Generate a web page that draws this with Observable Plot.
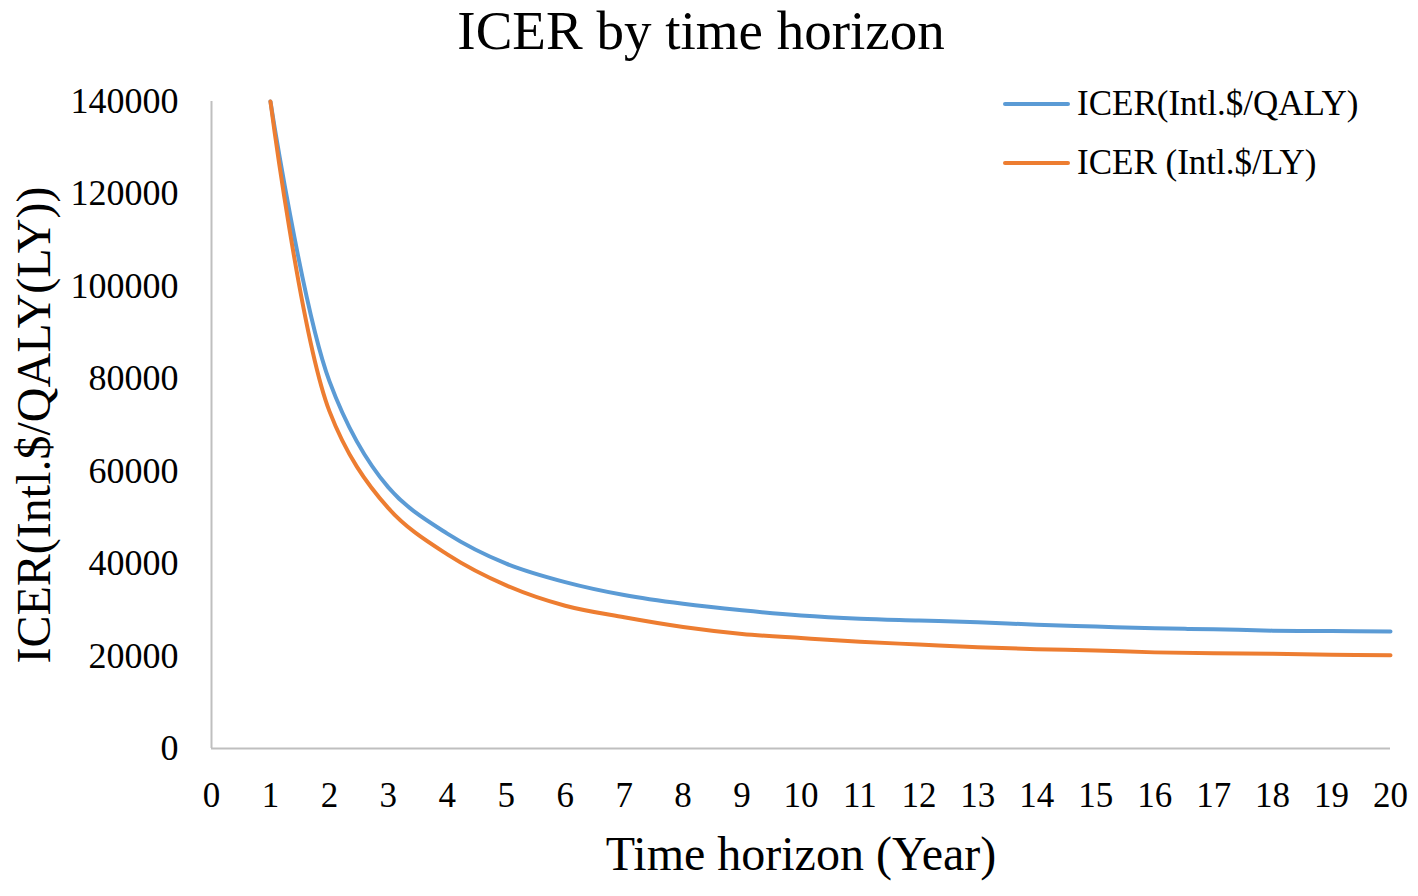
<!DOCTYPE html>
<html>
<head>
<meta charset="utf-8">
<script src="https://cdn.jsdelivr.net/npm/d3@7"></script>
<script src="https://cdn.jsdelivr.net/npm/@observablehq/plot@0.6"></script>
<style>
  html, body { margin: 0; padding: 0; background: #fff; }
  #wrap { position: relative; width: 1418px; height: 896px; font-family: "Liberation Serif", "Times New Roman", serif; }
  .leg { position: absolute; left: 1003px; display: flex; align-items: center; font-size: 35px; color: #000; white-space: nowrap; }
  .leg .sw { width: 67px; height: 4px; margin-right: 7px; border-radius: 2px; }
</style>
</head>
<body>
<div id="wrap"></div>
<script>
const title = "ICER by time horizon";
const xLabel = "Time horizon (Year)";
const yLabel = "ICER(Intl.$/QALY(LY))";
const seriesNames = ["ICER(Intl.$/QALY)", "ICER (Intl.$/LY)"];
const seriesColors = ["#5B9BD5", "#ED7D31"];
const years = [1, 2, 3, 4, 5, 6, 7, 8, 9, 10, 11, 12, 13, 14, 15, 16, 17, 18, 19, 20];
const icerQALY = [140000, 79500, 56500, 46500, 40000, 36000, 33200, 31300, 29900, 28800, 28100, 27700, 27300, 26800, 26400, 26000, 25800, 25500, 25400, 25300];
const icerLY   = [140000, 73000, 52000, 42000, 35300, 30900, 28400, 26300, 24800, 23900, 23100, 22500, 21900, 21500, 21200, 20800, 20600, 20500, 20300, 20200];
const xTicks = d3.range(0, 21);
const yTicks = [0, 20000, 40000, 60000, 80000, 100000, 120000, 140000];

const rows = [];
years.forEach((yr, i) => rows.push({year: yr, value: icerQALY[i], series: seriesNames[0]}));
years.forEach((yr, i) => rows.push({year: yr, value: icerLY[i], series: seriesNames[1]}));

const axisGray = "#BFBFBF";

const chart = Plot.plot({
  width: 1418,
  height: 896,
  marginTop: 101,
  marginBottom: 148,
  marginLeft: 211,
  marginRight: 28,
  style: {fontFamily: "'Liberation Serif', 'Times New Roman', serif", color: "#000", background: "#fff"},
  x: {domain: [0, 20]},
  y: {domain: [0, 140000]},
  color: {domain: seriesNames, range: seriesColors},
  marks: [
    Plot.ruleX([0], {stroke: axisGray, strokeWidth: 2}),
    Plot.ruleY([0], {stroke: axisGray, strokeWidth: 2}),
    Plot.axisX({ticks: xTicks, tickSize: 0, tickPadding: 34, fontSize: 35, tickFormat: d => String(d), label: null}),
    Plot.axisY({ticks: yTicks, tickSize: 0, tickPadding: 33, fontSize: 36, tickFormat: d => String(d), label: null}),
    Plot.line(rows, {x: "year", y: "value", stroke: "series", z: "series", curve: "catmull-rom", strokeWidth: 4, strokeLinecap: "round"}),
    Plot.text([title], {text: d => d, frameAnchor: "top", lineAnchor: "top", textAnchor: "middle", dx: -100, dy: -92, fontSize: 55}),
    Plot.text([yLabel], {text: d => d, frameAnchor: "left", textAnchor: "middle", lineAnchor: "middle", dx: -177, rotate: -90, fontSize: 48}),
    Plot.text([xLabel], {text: d => d, frameAnchor: "bottom", textAnchor: "middle", lineAnchor: "bottom", dy: 121, fontSize: 48})
  ]
});

const wrap = document.getElementById("wrap");
wrap.appendChild(chart);

const legendY = [104, 163];
seriesNames.forEach((name, i) => {
  const d = document.createElement("div");
  d.className = "leg";
  d.style.top = (legendY[i] - 20) + "px";
  d.style.height = "40px";
  const sw = document.createElement("span");
  sw.className = "sw";
  sw.style.background = seriesColors[i];
  const t = document.createElement("span");
  t.textContent = name;
  d.appendChild(sw);
  d.appendChild(t);
  wrap.appendChild(d);
});
</script>
</body>
</html>
